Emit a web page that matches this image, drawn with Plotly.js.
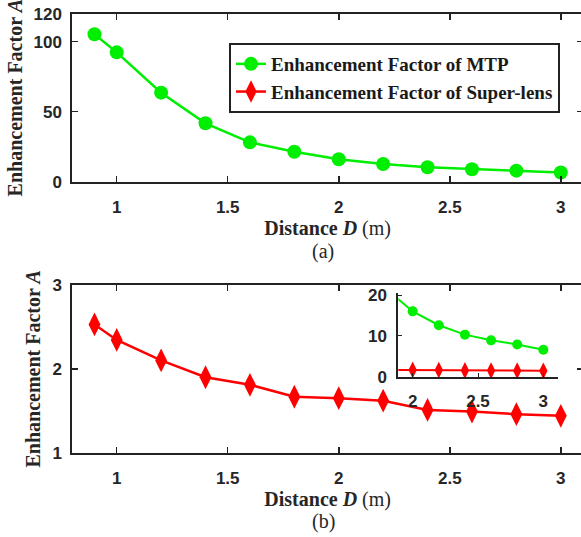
<!DOCTYPE html>
<html>
<head>
<meta charset="utf-8">
<script src="https://cdn.plot.ly/plotly-3.0.1.min.js"></script>
<style>
  html, body { margin: 0; padding: 0; overflow: hidden; background: #fff; }
  #chart { width: 584px; height: 537px; }
</style>
</head>
<body>
<div id="chart"></div>
<script>
// ---- data ----
const distance = [0.9, 1.0, 1.2, 1.4, 1.6, 1.8, 2.0, 2.2, 2.4, 2.6, 2.8, 3.0];
const mtpFactor = [105.3, 92.4, 63.6, 41.7, 28.1, 21.4, 16.0, 12.6, 10.3, 8.9, 7.9, 6.6];
const superLensFactor = [2.53, 2.345, 2.10, 1.90, 1.81, 1.667, 1.65, 1.62, 1.51, 1.49, 1.46, 1.44];
const seriesNames = ['Enhancement Factor of MTP', 'Enhancement Factor of Super-lens'];
const xTicks = [1, 1.5, 2, 2.5, 3];
const yTicksTop = [0, 50, 100, 120];
const yTicksBottom = [1, 2, 3];
const insetXTicks = [2, 2.5, 3];
const insetYTicks = [0, 10, 20];
const panelLabels = ['(a)', '(b)'];

const W = 584, H = 537;
const green = '#00ee00';
const red = '#ff0000';
const axisColor = '#222222';
const tickFont = { family: 'Liberation Sans, Arial, sans-serif', size: 17, color: '#262626', weight: 'bold' };
const serif = 'Liberation Serif, Times New Roman, serif';

function px(x) { return x / W; }
function py(y) { return (H - y) / H; }

const traces = [
  {
    x: distance, y: mtpFactor, xaxis: 'x', yaxis: 'y', name: seriesNames[0],
    mode: 'lines+markers', line: { color: green, width: 2.5 },
    marker: { symbol: 'circle', size: 14, color: green }, showlegend: true
  },
  {
    x: distance, y: superLensFactor, xaxis: 'x2', yaxis: 'y2', name: seriesNames[1],
    mode: 'lines+markers', line: { color: red, width: 2.5 },
    marker: { symbol: 'diamond-tall', size: 17, color: red }, showlegend: true
  },
  {
    x: distance, y: mtpFactor, xaxis: 'x3', yaxis: 'y3', name: seriesNames[0],
    mode: 'lines+markers', line: { color: green, width: 2 },
    marker: { symbol: 'circle', size: 10, color: green }, showlegend: false
  },
  {
    x: distance, y: superLensFactor, xaxis: 'x3', yaxis: 'y3', name: seriesNames[1],
    mode: 'lines+markers', line: { color: red, width: 2 },
    marker: { symbol: 'diamond-tall', size: 12, color: red }, showlegend: false
  }
];

const mainAxisCommon = {
  showgrid: false, zeroline: false, showline: true, linecolor: axisColor, linewidth: 2,
  mirror: 'ticks', ticks: 'inside', ticklen: 6, tickwidth: 1.5, tickcolor: axisColor,
  tickfont: tickFont, fixedrange: true
};

const xTitle = {
  text: '<b>Distance <i>D</i></b> (m)',
  font: { family: serif, size: 20, color: '#262626' },
  standoff: 4
};
const yTitle = {
  text: '<b>Enhancement Factor <i>A</i></b>',
  font: { family: serif, size: 20, color: '#262626' },
  standoff: 6
};

const layout = {
  width: W, height: H,
  margin: { l: 0, r: 0, t: 0, b: 0 },
  paper_bgcolor: '#ffffff', plot_bgcolor: '#ffffff',
  showlegend: true,
  legend: {
    x: px(229), y: py(43), xanchor: 'left', yanchor: 'top',
    bordercolor: axisColor, borderwidth: 2, bgcolor: '#ffffff',
    font: { family: serif, size: 19, color: '#1a1a1a', weight: 'bold' },
    itemwidth: 30, tracegroupgap: 0
  },
  xaxis: Object.assign({}, mainAxisCommon, {
    domain: [px(72.3), px(583)], range: [0.8, 3.1], anchor: 'y',
    tickvals: xTicks, ticktext: xTicks.map(String), ticklabelstandoff: 9,
    title: xTitle
  }),
  yaxis: Object.assign({}, mainAxisCommon, {
    domain: [py(181.7), py(13.7)], range: [0, 120], anchor: 'x',
    tickvals: yTicksTop, ticktext: yTicksTop.map(String), ticklabelstandoff: 5,
    title: yTitle
  }),
  xaxis2: Object.assign({}, mainAxisCommon, {
    domain: [px(72.3), px(583)], range: [0.8, 3.1], anchor: 'y2',
    tickvals: xTicks, ticktext: xTicks.map(String), ticklabelstandoff: 9,
    title: xTitle
  }),
  yaxis2: Object.assign({}, mainAxisCommon, {
    domain: [py(452.7), py(285)], range: [1, 3], anchor: 'x2',
    tickvals: yTicksBottom, ticktext: yTicksBottom.map(String), ticklabelstandoff: 5,
    title: yTitle
  }),
  xaxis3: {
    domain: [px(398.3), px(557.7)], range: [1.89, 3.11], anchor: 'y3',
    showgrid: false, zeroline: false, showline: true, linecolor: axisColor, linewidth: 2,
    mirror: false, ticks: 'inside', ticklen: 4, tickcolor: axisColor,
    tickvals: insetXTicks, ticktext: insetXTicks.map(String), tickfont: tickFont,
    ticklabelstandoff: 7, fixedrange: true
  },
  yaxis3: {
    domain: [py(377.3), py(293)], range: [-0.15, 20.5], anchor: 'x3',
    showgrid: false, zeroline: false, showline: true, linecolor: axisColor, linewidth: 2,
    mirror: false, ticks: 'inside', ticklen: 4, tickcolor: axisColor,
    tickvals: insetYTicks, ticktext: insetYTicks.map(String), tickfont: tickFont,
    ticklabelstandoff: 6, fixedrange: true
  },
  annotations: [
    { text: panelLabels[0], xref: 'paper', yref: 'paper', x: px(323), y: py(252),
      xanchor: 'center', yanchor: 'middle', showarrow: false,
      font: { family: serif, size: 20, color: '#262626' } },
    { text: panelLabels[1], xref: 'paper', yref: 'paper', x: px(323), y: py(521),
      xanchor: 'center', yanchor: 'middle', showarrow: false,
      font: { family: serif, size: 20, color: '#262626' } }
  ]
};

Plotly.newPlot('chart', traces, layout, { staticPlot: true, displayModeBar: false });
</script>
</body>
</html>
